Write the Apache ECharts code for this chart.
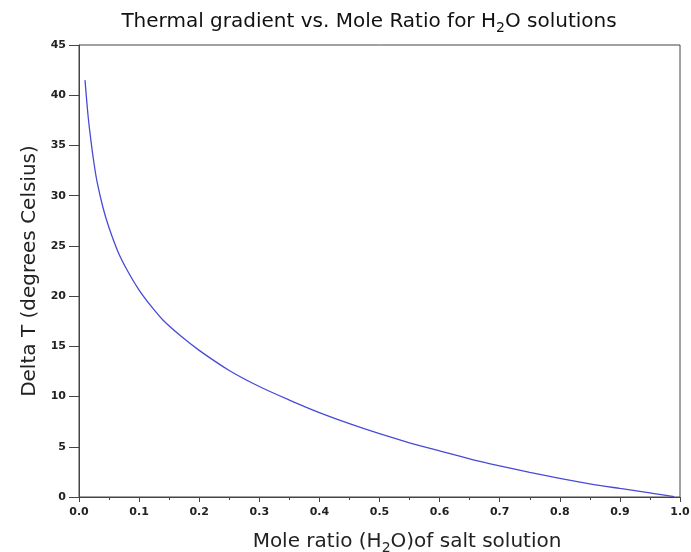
<!DOCTYPE html>
<html>
<head>
<meta charset="utf-8">
<script src="https://cdn.jsdelivr.net/npm/echarts@6/dist/echarts.min.js"></script>
<style>
  html, body { margin: 0; padding: 0; background: #fff; }
  #main { width: 691px; height: 552px; }
</style>
</head>
<body>
<div id="main"></div>
<script>
// mole ratio (x) and delta T (y)
var moleRatio = [0.01, 0.015, 0.02, 0.025, 0.03, 0.04, 0.05, 0.065, 0.08, 0.1,
  0.12, 0.14, 0.17, 0.2, 0.25, 0.3, 0.35, 0.4, 0.45, 0.5,
  0.55, 0.6, 0.65, 0.7, 0.75, 0.8, 0.85, 0.9, 0.95, 0.99];
var deltaT = [41.5, 38.0, 35.4, 33.2, 31.4, 28.8, 26.8, 24.4, 22.6, 20.6,
  19.0, 17.6, 16.0, 14.6, 12.6, 11.0, 9.65, 8.4, 7.3, 6.3,
  5.4, 4.6, 3.8, 3.1, 2.45, 1.85, 1.3, 0.85, 0.42, 0.03];

var chartDom = document.getElementById('main');
var myChart = echarts.init(chartDom);
var option;

var font = 'DejaVu Sans';
var seriesData = moleRatio.map(function (x, i) { return [x, deltaT[i]]; });

option = {
  animation: false,
  title: {
    text: 'Thermal gradient vs. Mole Ratio for H{sub|2}O solutions',
    left: 364,
    top: 4,
    textAlign: 'center',
    textStyle: {
      fontFamily: font,
      fontSize: 20,
      fontWeight: 'normal',
      color: '#111',
      rich: {
        sub: { fontFamily: font, fontSize: 14, color: '#111', padding: [12, 0, 0, 0] }
      }
    }
  },
  grid: {
    left: 79,
    right: 11,
    top: 45,
    bottom: 55,
    containLabel: false,
    outerBoundsMode: 'none',
    show: true,
    borderColor: '#444',
    borderWidth: 1
  },
  xAxis: {
    type: 'value',
    min: 0,
    max: 1,
    interval: 0.1,
    name: 'Mole ratio (H{sub|2}O)of salt solution',
    nameLocation: 'middle',
    nameGap: 32,
    nameTextStyle: {
      fontFamily: font,
      fontSize: 20,
      color: '#222',
      padding: [0, 0, 0, 55],
      rich: {
        sub: { fontFamily: font, fontSize: 14, color: '#222', padding: [12, 0, 0, 0] }
      }
    },
    axisLine: { lineStyle: { color: '#444', width: 1 } },
    axisTick: { length: 5, lineStyle: { color: '#444' } },
    minorTick: { show: true, splitNumber: 2, length: 3, lineStyle: { color: '#444' } },
    axisLabel: {
      fontFamily: font,
      fontSize: 11,
      fontWeight: 'bold',
      color: '#222',
      margin: 10,
      formatter: function (v) { return v.toFixed(1); }
    },
    splitLine: { show: false }
  },
  yAxis: {
    type: 'value',
    min: 0,
    max: 45,
    interval: 5,
    name: 'Delta T (degrees Celsius)',
    nameLocation: 'middle',
    nameGap: 39,
    nameTextStyle: { fontFamily: font, fontSize: 20, color: '#222' },
    axisLine: { show: true, lineStyle: { color: '#444', width: 1 } },
    axisTick: { show: true, length: 10, lineStyle: { color: '#444' } },
    axisLabel: { fontFamily: font, fontSize: 11, fontWeight: 'bold', color: '#222', margin: 13 },
    splitLine: { show: false }
  },
  series: [
    {
      type: 'line',
      data: seriesData,
      smooth: 0.3,
      symbol: 'none',
      lineStyle: { color: '#4a4ad8', width: 1.3 }
    }
  ]
};

option && myChart.setOption(option);
</script>
</body>
</html>
